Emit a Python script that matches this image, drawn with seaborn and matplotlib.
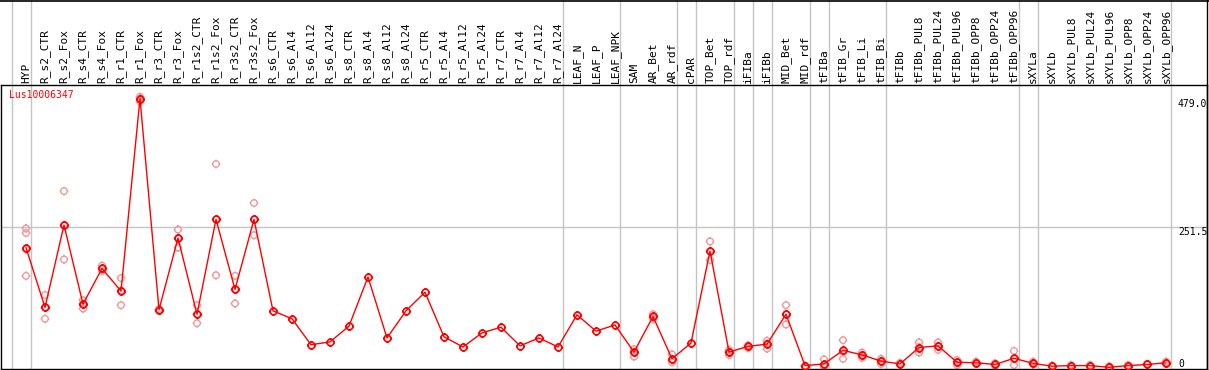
import numpy as np
import pandas as pd
import seaborn as sns
import matplotlib.pyplot as plt
from matplotlib.path import Path
from matplotlib.lines import Line2D

# %% data
samples = ['HYP',
           'R_s2_CTR', 'R_s2_Fox', 'R_s4_CTR', 'R_s4_Fox', 'R_r1_CTR', 'R_r1_Fox',
           'R_r3_CTR', 'R_r3_Fox', 'R_r1s2_CTR', 'R_r1s2_Fox', 'R_r3s2_CTR', 'R_r3s2_Fox',
           'R_s6_CTR', 'R_s6_Al4', 'R_s6_Al12', 'R_s6_Al24',
           'R_s8_CTR', 'R_s8_Al4', 'R_s8_Al12', 'R_s8_Al24',
           'R_r5_CTR', 'R_r5_Al4', 'R_r5_Al12', 'R_r5_Al24',
           'R_r7_CTR', 'R_r7_Al4', 'R_r7_Al12', 'R_r7_Al24',
           'LEAF_N', 'LEAF_P', 'LEAF_NPK',
           'SAM', 'AR_Bet', 'AR_rdf', 'cPAR', 'TOP_Bet', 'TOP_rdf',
           'iFIBa', 'iFIBb', 'MID_Bet', 'MID_rdf',
           'tFIBa', 'tFIB_Gr', 'tFIB_Li', 'tFIB_Bi',
           'tFIBb', 'tFIBb_PUL8', 'tFIBb_PUL24', 'tFIBb_PUL96',
           'tFIBb_OPP8', 'tFIBb_OPP24', 'tFIBb_OPP96',
           'sXYLa', 'sXYLb', 'sXYLb_PUL8', 'sXYLb_PUL24', 'sXYLb_PUL96',
           'sXYLb_OPP8', 'sXYLb_OPP24', 'sXYLb_OPP96']

mean_expr = [215, 109, 255, 115, 178, 138, 479, 105, 232, 97, 265, 141, 265,
             103, 89, 43, 48, 76, 163, 55, 103, 136, 57, 39, 64, 74, 41, 55, 39,
             96, 67, 78,
             30, 93, 18, 46, 209, 30, 40, 44, 97, 6,
             9, 33, 25, 14,
             9, 38, 41, 12, 11, 8, 19,
             10, 5, 6, 6, 3, 6, 8, 11]

replicates = [[249, 241, 212, 165], [131, 109, 89], [315, 255, 194], [122, 115, 107],
              [183, 178, 174], [161, 139, 113], [482, 479, 474], [106, 104, 103],
              [247, 232, 215], [113, 97, 81], [363, 265, 166], [165, 141, 116],
              [294, 265, 237],
              [], [], [], [], [], [], [], [], [], [], [], [], [], [], [], [],
              [], [], [],
              [35, 30, 22], [97, 92, 89], [26, 16, 12], [], [226, 209, 193], [34, 30, 25],
              [42, 39, 37], [50, 45, 36], [113, 97, 79], [6, 5],
              [17, 6, 4], [51, 30, 18], [29, 25, 20], [18, 14, 9],
              [11, 9, 8], [47, 39, 29], [47, 41, 34], [16, 12, 7], [13, 11, 9], [10, 8, 6],
              [32, 18, 7],
              [13, 10, 8], [6, 5], [7, 6], [7, 6], [5, 3], [7, 6], [9, 8], [13, 11, 9]]

# tissue groups (separator lines between them)
group_sizes = [1, 28, 3, 3, 1, 2, 1, 1, 2, 1, 3, 7, 1, 7]

gene_id = 'Lus10006347'
y_marks = [479.0, 251.5, 0]
y_mark_labels = ['479.0', '251.5', '0']

# %% tidy
pos = np.arange(len(samples))
mean_df = pd.DataFrame({'pos': pos, 'expr': mean_expr})
rep_df = pd.DataFrame(
    [(i, v) for i, reps in enumerate(replicates) for v in reps],
    columns=['pos', 'expr'])

# circle marker with small ticks, like the original viewer
ticks = Path([(0, 1), (0, 1.35), (0, -1), (0, -1.35),
              (1, 0), (1.35, 0), (-1, 0), (-1.35, 0)],
             [Path.MOVETO, Path.LINETO] * 4)
ring = Path.make_compound_path(Path.unit_circle(), ticks)

# %% plot
sns.set_theme(style='white')
plt.rcParams['font.family'] = ['DejaVu Sans Mono']

fig = plt.figure(figsize=(12.09, 3.70), dpi=100)
W, H = 1209, 370
ax = fig.add_axes([1 / W, 1 / H, 1206 / W, 284 / H])

# group separators, running up through the label band
seps = np.concatenate([[-1], np.cumsum(group_sizes) - 1]) + 5 / 19
for s in seps:
    ax.axvline(s, ymin=0, ymax=369 / 284, color='#c4c4c4', lw=1, clip_on=False, zorder=0)
ax.axhline(y_marks[1], color='#c4c4c4', lw=1, zorder=0)

sns.scatterplot(data=rep_df, x='pos', y='expr', ax=ax, marker=ring, s=40,
                color='#ef9a9a', facecolor='none', edgecolor='#ef9a9a',
                linewidth=1, zorder=2, legend=False)
sns.lineplot(data=mean_df, x='pos', y='expr', ax=ax, color='red', lw=1,
             marker=ring, markersize=6.5, mfc='none', mec='red', mew=1.2,
             zorder=3, legend=False)

ax.set_xlim((1 - 26) / 19, (1207 - 26) / 19)
ax.set_ylim(0, 503)
ax.set_xticks(pos)
ax.set_xticklabels(samples, rotation=90, fontsize=8)
ax.xaxis.tick_top()
ax.tick_params(axis='x', length=0, pad=1.5, colors='black')
ax.set_yticks([])
ax.set_xlabel('')
ax.set_ylabel('')
for sp in ax.spines.values():
    sp.set_color('black')
    sp.set_linewidth(1)

# value marks on the right side
vas = ['top', 'top', 'bottom']
for v, lab, va in zip(y_marks, y_mark_labels, vas):
    ax.text(60.63, v, lab, ha='left', va=va, fontsize=7, color='black')

ax.text(0.007, 0.965, gene_id, transform=ax.transAxes, ha='left', va='center',
        fontsize=7, color='red')

# outer frame: top edge and right edge of the label band
fig.add_artist(Line2D([0, 1], [1 - 0.5 / H, 1 - 0.5 / H], transform=fig.transFigure,
                      color='black', lw=1.2))
fig.add_artist(Line2D([1207 / W, 1207 / W], [0, 1], transform=fig.transFigure,
                      color='black', lw=1))

plt.savefig('out.png', dpi=100)
